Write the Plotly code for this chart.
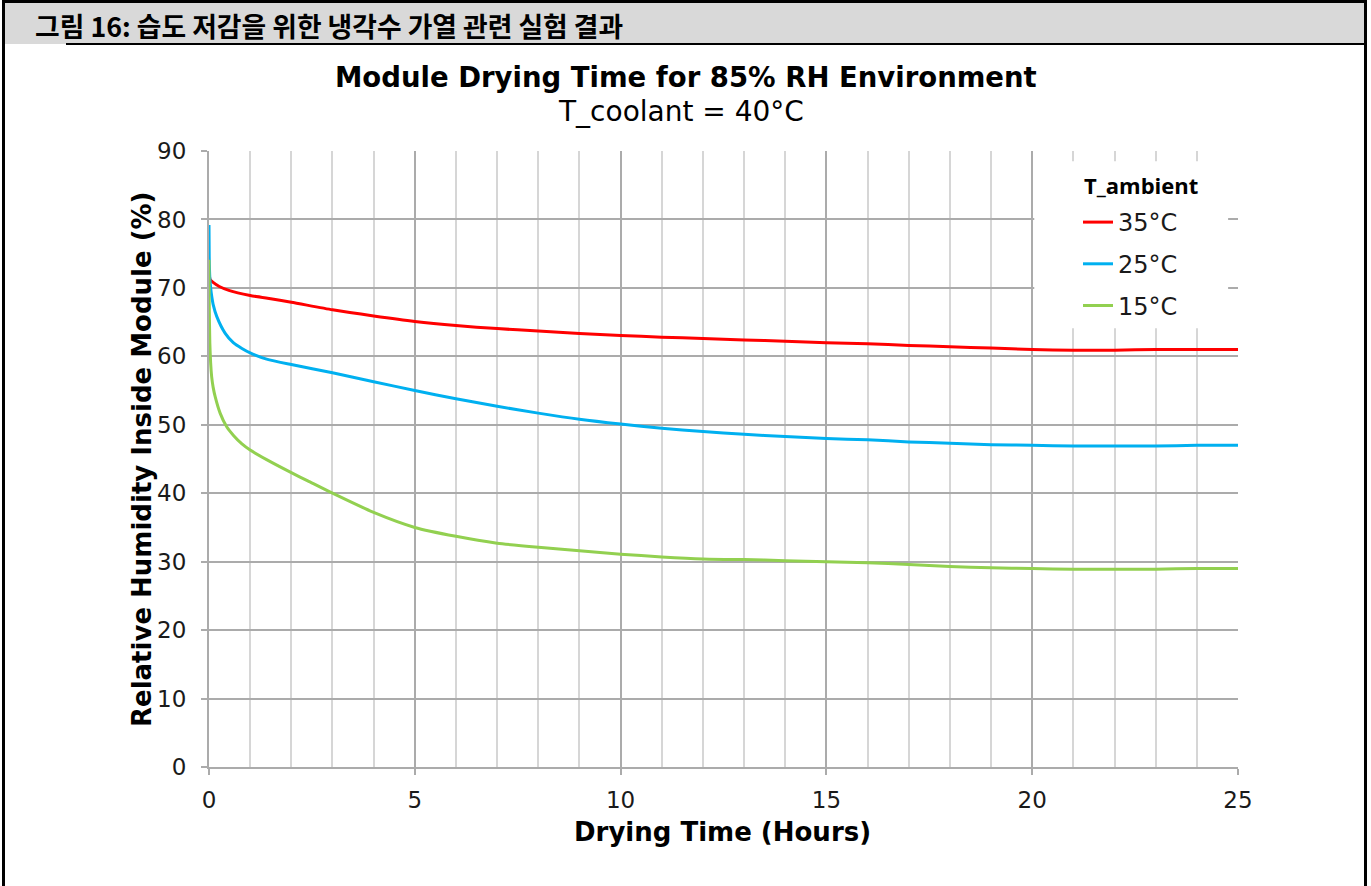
import plotly.graph_objects as go

# Drying time (hours) and relative humidity inside module (%) per ambient temperature
t_35 = [0, 0.03, 0.1, 0.25, 0.5, 1, 1.5, 2, 3, 4, 5, 6, 7, 8, 9, 10, 11, 12, 13, 14,
        15, 16, 17, 18, 19, 20, 21, 22, 23, 24, 25]
rh_35 = [72.2, 71.2, 70.8, 70.2, 69.6, 68.9, 68.4, 67.9, 66.8, 65.9, 65.1, 64.5, 64.05,
         63.7, 63.35, 63.05, 62.8, 62.6, 62.4, 62.2, 62.0, 61.85, 61.6, 61.4, 61.2, 61.0,
         60.9, 60.9, 61.0, 61.0, 61.0]

t_25 = [0, 0.005, 0.02, 0.04, 0.065, 0.1, 0.19, 0.39, 0.59, 0.8, 1, 1.4, 2, 3, 4, 5, 6,
        7, 8, 9, 10, 11, 12, 13, 14, 15, 16, 17, 18, 19, 20, 21, 22, 23, 24, 25]
rh_25 = [79.2, 74.5, 71.5, 70.0, 68.8, 67.6, 65.8, 63.4, 62.0, 61.15, 60.5, 59.6, 58.8,
         57.6, 56.3, 55.0, 53.8, 52.7, 51.7, 50.8, 50.1, 49.5, 49.0, 48.6, 48.3, 48.0,
         47.8, 47.5, 47.3, 47.1, 47.0, 46.9, 46.9, 46.9, 47.0, 47.0]

t_15 = [0, 0.005, 0.02, 0.04, 0.065, 0.1, 0.15, 0.27, 0.43, 0.6, 0.8, 1, 1.4, 2, 2.4, 3,
        4, 5, 6, 7, 8, 9, 10, 11, 12, 13, 14, 15, 16, 17, 18, 19, 20, 21, 22, 23, 24, 25]
rh_15 = [74.1, 68.0, 62.0, 59.0, 57.0, 55.5, 54.1, 51.7, 49.7, 48.4, 47.2, 46.3, 44.9,
         43.0, 41.8, 40.0, 37.2, 35.0, 33.7, 32.7, 32.1, 31.6, 31.1, 30.7, 30.4, 30.3,
         30.15, 30.0, 29.85, 29.6, 29.3, 29.1, 29.0, 28.9, 28.9, 28.9, 29.0, 29.0]

series_names = ["35°C", "25°C", "15°C"]
series_colors = ["#ff0000", "#00b0f0", "#92d050"]

x_ticks = [0, 5, 10, 15, 20, 25]
y_ticks = [0, 10, 20, 30, 40, 50, 60, 70, 80, 90]

W, H = 1371, 886
ML, MR, MT, MB = 209, 133, 151, 119
PW, PH = W - ML - MR, H - MT - MB


def px(xp):
    return (xp - ML) / PW


def py(yp):
    return (H - MB - yp) / PH


FONT = "DejaVu Sans"
GRID_MAJOR = "#ababab"
GRID_MINOR = "#d6d6d6"

fig = go.Figure()
for i, (tt, vv) in enumerate([(t_35, rh_35), (t_25, rh_25), (t_15, rh_15)]):
    fig.add_trace(go.Scatter(
        x=tt, y=vv, mode="lines", name=series_names[i],
        legendgroup=series_names[i],
        line=dict(color=series_colors[i], width=3, shape="spline", smoothing=0.6),
    ))

fig.update_layout(
    width=W, height=H,
    margin=dict(l=ML, r=MR, t=MT, b=MB, pad=0),
    paper_bgcolor="white", plot_bgcolor="white",
    font=dict(family=FONT, color="#1a1a1a"),
    showlegend=True,
    legend=dict(
        x=px(1078), y=py(200), xanchor="left", yanchor="top",
        bgcolor="rgba(0,0,0,0)", borderwidth=0,
        font=dict(family=FONT, size=24, color="#1a1a1a"),
        traceorder="grouped", tracegroupgap=7.5,
    ),
    xaxis=dict(
        range=[0, 25], tickvals=x_ticks, ticktext=[str(v) for v in x_ticks],
        showgrid=True, gridcolor=GRID_MAJOR, gridwidth=2,
        minor=dict(dtick=1, tick0=0, showgrid=True, gridcolor=GRID_MINOR, gridwidth=2),
        showline=True, linecolor=GRID_MAJOR, linewidth=2,
        ticks="outside", ticklen=6, tickwidth=2, tickcolor=GRID_MAJOR,
        tickfont=dict(family=FONT, size=23, color="#1a1a1a"),
        ticklabelstandoff=5, zeroline=False,
    ),
    yaxis=dict(
        range=[0, 90], tickvals=y_ticks, ticktext=[str(v) for v in y_ticks],
        showgrid=True, gridcolor=GRID_MAJOR, gridwidth=2,
        showline=True, linecolor=GRID_MAJOR, linewidth=2,
        ticks="outside", ticklen=6, tickwidth=2, tickcolor=GRID_MAJOR,
        tickfont=dict(family=FONT, size=23, color="#1a1a1a"),
        ticklabelstandoff=10, zeroline=False,
    ),
)

# White panel behind the legend
fig.add_shape(type="rect", xref="x", yref="y", x0=20.05, x1=24.76, y0=64.1, y1=88.5,
              fillcolor="white", line=dict(width=0), layer="above")

# Page frame and caption header
fig.add_shape(type="rect", xref="paper", yref="paper", x0=px(3), x1=px(1367),
              y0=py(44), y1=py(1), fillcolor="#d9d9d9", line=dict(width=0), layer="below")
frame = dict(color="black", width=3)
fig.add_shape(type="line", xref="paper", yref="paper", x0=px(3), x1=px(1367),
              y0=py(1.5), y1=py(1.5), line=frame)
fig.add_shape(type="line", xref="paper", yref="paper", x0=px(66), x1=px(1367),
              y0=py(44), y1=py(44), line=dict(color="black", width=2))
fig.add_shape(type="line", xref="paper", yref="paper", x0=px(3.5), x1=px(3.5),
              y0=py(0), y1=py(886), line=frame)
fig.add_shape(type="line", xref="paper", yref="paper", x0=px(1365.5), x1=px(1365.5),
              y0=py(0), y1=py(886), line=frame)

annotations = [
    dict(text="<b>그림 16: 습도 저감을 위한 냉각수 가열 관련 실험 결과</b>",
         x=px(33), y=py(26), xanchor="left", yanchor="middle",
         font=dict(family="Noto Sans CJK KR", size=26.8, color="black")),
    dict(text="<b>Module Drying Time for 85% RH Environment</b>",
         x=px(686), y=py(77), xanchor="center", yanchor="middle",
         font=dict(family=FONT, size=27.5, color="black")),
    dict(text="T_coolant = 40°C",
         x=px(681), y=py(111), xanchor="center", yanchor="middle",
         font=dict(family=FONT, size=28, color="black")),
    dict(text="<b>Relative Humidity Inside Module (%)</b>",
         x=px(142), y=py(460), xanchor="center", yanchor="middle", textangle=-90,
         font=dict(family=FONT, size=26, color="black")),
    dict(text="<b>Drying Time (Hours)</b>",
         x=px(722), y=py(832), xanchor="center", yanchor="middle",
         font=dict(family=FONT, size=26, color="black")),
    dict(text="<b>T_ambient</b>",
         x=px(1082), y=py(185), xanchor="left", yanchor="middle",
         font=dict(family="Open Sans", size=22, color="black")),
]
for a in annotations:
    a.update(xref="paper", yref="paper", showarrow=False)
fig.update_layout(annotations=annotations)

fig.write_html("out.html")
